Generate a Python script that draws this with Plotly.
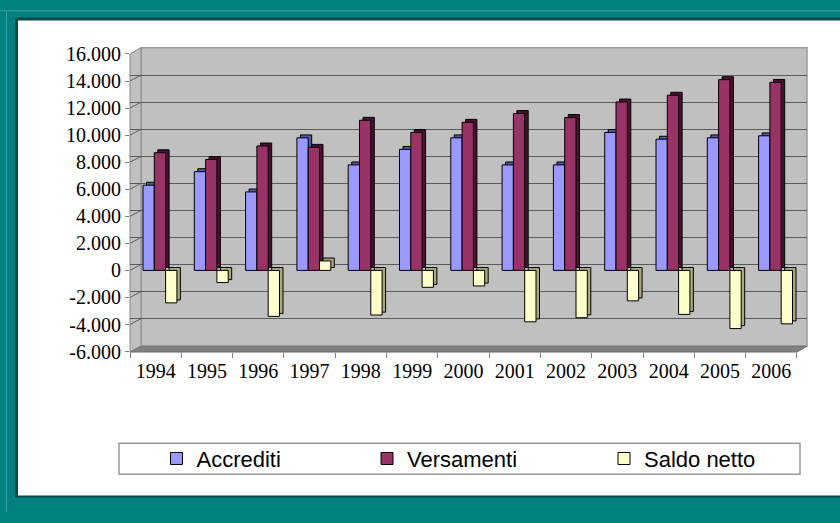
import plotly.graph_objects as go

# ---------------- data ----------------
years = ["1994", "1995", "1996", "1997", "1998", "1999", "2000",
         "2001", "2002", "2003", "2004", "2005", "2006"]
accrediti = [6300, 7300, 5800, 9800, 7800, 8950, 9800, 7800, 7800, 10200, 9700, 9800, 9950]
versamenti = [8700, 8200, 9200, 9100, 11100, 10200, 10950, 11600, 11300, 12450, 12950, 14100, 13900]
saldo = [-2400, -900, -3400, 700, -3300, -1250, -1150, -3800, -3500, -2250, -3250, -4300, -3950]

series_names = ["Accrediti", "Versamenti", "Saldo netto"]
y_tick_vals = [-6000, -4000, -2000, 0, 2000, 4000, 6000, 8000, 10000, 12000, 14000, 16000]
y_tick_text = ["-6.000", "-4.000", "-2.000", "0", "2.000", "4.000", "6.000",
               "8.000", "10.000", "12.000", "14.000", "16.000"]

# ---------------- geometry helpers (pixels -> paper) ----------------
W, H = 840, 523
def px(x):
    return x / W
def py(y):
    return 1 - y / H

X0, X1 = 130, 807          # plot area (front axis left -> back wall right)
Y0, Y1 = 44, 358           # plot area top/bottom
CAT_W = 51.3               # px per category
UNITS_PER_PX = 22000 / 307.0
Y_TOP = 16000 + 6.5 * UNITS_PER_PX
Y_BOT = -6000 - 0.5 * UNITS_PER_PX
DEPTH_X, DEPTH_Y = 11, 6    # 3D wall offset (px)
BAR_DX, BAR_DY = 3.5, 3.0   # bar depth (px)

bar_w = 11.3 / CAT_W
first_off = -12.65 / CAT_W
fills = ["#9999FF", "#993366", "#FFFFCC"]
sides = ["#5555AA", "#4A1030", "#A8A878"]
values = [accrediti, versamenti, saldo]
legends = ["legend", "legend2", "legend3"]

fig = go.Figure()
for i, (vals, name) in enumerate(zip(values, series_names)):
    off = first_off + i * bar_w
    # depth (side/top) face
    fig.add_trace(go.Bar(
        x=years, y=vals, base=BAR_DY * UNITS_PER_PX,
        offset=off + BAR_DX / CAT_W, width=bar_w,
        marker=dict(color=sides[i], line=dict(color="black", width=1)),
        showlegend=False, hoverinfo="skip", xaxis="x", yaxis="y"))
    # front face
    fig.add_trace(go.Bar(
        x=years, y=vals, name=name, offset=off, width=bar_w,
        marker=dict(color=fills[i], line=dict(color="black", width=1)),
        legend=legends[i], xaxis="x", yaxis="y"))

shapes = []
# teal frame decorations
shapes.append(dict(type="line", xref="paper", yref="paper", x0=0, x1=1, y0=py(6), y1=py(6),
                   line=dict(color="#3FA3A3", width=1), layer="below"))
shapes.append(dict(type="line", xref="paper", yref="paper", x0=px(6.5), x1=px(6.5), y0=py(6), y1=0,
                   line=dict(color="#3FA3A3", width=1), layer="below"))
# white panel with dark edge
shapes.append(dict(type="rect", xref="paper", yref="paper", x0=px(15), x1=px(860), y0=py(508), y1=py(13),
                   fillcolor="#0A4A4A", line=dict(width=0), layer="below"))
shapes.append(dict(type="rect", xref="paper", yref="paper", x0=px(18), x1=px(860), y0=py(506), y1=py(16),
                   fillcolor="white", line=dict(width=0), layer="below"))
# back wall
shapes.append(dict(type="rect", xref="paper", yref="paper",
                   x0=px(X0 + DEPTH_X), x1=px(X1), y0=py(Y1 - DEPTH_Y), y1=py(Y0),
                   fillcolor="#C0C0C0", line=dict(color="#9A9A9A", width=1.5), layer="below"))
# side wall
xa, xb = px(X0), px(X0 + DEPTH_X)
shapes.append(dict(type="path", xref="paper", yref="paper",
                   path=f"M{xa},{py(50.5)} L{xb},{py(Y0)} L{xb},{py(Y1 - DEPTH_Y)} L{xa},{py(Y1)} Z",
                   fillcolor="#C0C0C0", line=dict(color="#8A8A8A", width=1), layer="between"))
# floor
shapes.append(dict(type="path", xref="paper", yref="paper",
                   path=(f"M{px(X0)},{py(Y1)} L{px(X1 - DEPTH_X + 1)},{py(Y1)} "
                         f"L{px(X1)},{py(Y1 - DEPTH_Y)} L{px(X0 + DEPTH_X)},{py(Y1 - DEPTH_Y)} Z"),
                   fillcolor="#808080", line=dict(color="#707070", width=1), layer="between"))
# diagonal tick connectors on the side wall
for v in y_tick_vals[1:-1]:
    shapes.append(dict(type="line", xref="paper", yref="y",
                       x0=px(X0), x1=px(X0 + DEPTH_X), y0=v, y1=v + DEPTH_Y * UNITS_PER_PX,
                       line=dict(color="#606060", width=1), layer="between"))
# legend box
shapes.append(dict(type="rect", xref="paper", yref="paper", x0=px(119), x1=px(800), y0=py(484), y1=py(452),
                   fillcolor="white", line=dict(color="#9A9A9A", width=1.5), layer="below"))

legend_common = dict(orientation="h", yanchor="middle", xanchor="left", y=py(468),
                     bgcolor="rgba(0,0,0,0)", borderwidth=0,
                     font=dict(family="Liberation Sans, Arial", size=22, color="black"))

fig.update_layout(
    width=W, height=H,
    margin=dict(l=0, r=0, t=0, b=0),
    paper_bgcolor="#008080",
    plot_bgcolor="rgba(0,0,0,0)",
    barmode="overlay",
    xaxis=dict(domain=[px(X0), px(X1)], type="category",
               range=[-0.5, -0.5 + (X1 - X0) / CAT_W],
               showgrid=False, zeroline=False, showline=False,
               ticks="outside", tickson="boundaries", ticklen=5, tickcolor="#808080",
               ticklabelstandoff=5,
               tickfont=dict(family="Liberation Serif, Times New Roman", size=20, color="black")),
    yaxis=dict(domain=[py(Y1), py(Y0)], range=[Y_BOT, Y_TOP],
               tickvals=y_tick_vals, ticktext=y_tick_text,
               showgrid=False, zeroline=False, showline=False,
               ticks="outside", ticklen=4, tickcolor="#808080",
               tickfont=dict(family="Liberation Serif, Times New Roman", size=20, color="black")),
    yaxis2=dict(domain=[py(Y1), py(Y0)], overlaying="y",
                range=[Y_BOT - DEPTH_Y * UNITS_PER_PX, Y_TOP - DEPTH_Y * UNITS_PER_PX],
                tickvals=y_tick_vals[1:-1], showticklabels=False, ticks="",
                showgrid=True, gridcolor="#5A5A5A", gridwidth=1.2, zeroline=False, showline=False),
    legend=dict(x=px(156.5), **legend_common),
    legend2=dict(x=px(367), **legend_common),
    legend3=dict(x=px(604), **legend_common),
    shapes=shapes,
)
# an invisible trace to activate the back-wall gridlines (yaxis2)
fig.add_trace(go.Scatter(x=[years[0]], y=[0], yaxis="y2", xaxis="x", mode="markers",
                         marker=dict(opacity=0), showlegend=False, hoverinfo="skip"))

fig.write_html("out.html", config={"displayModeBar": False},
               post_script="document.body.style.margin='0';document.documentElement.style.overflow='hidden';")
